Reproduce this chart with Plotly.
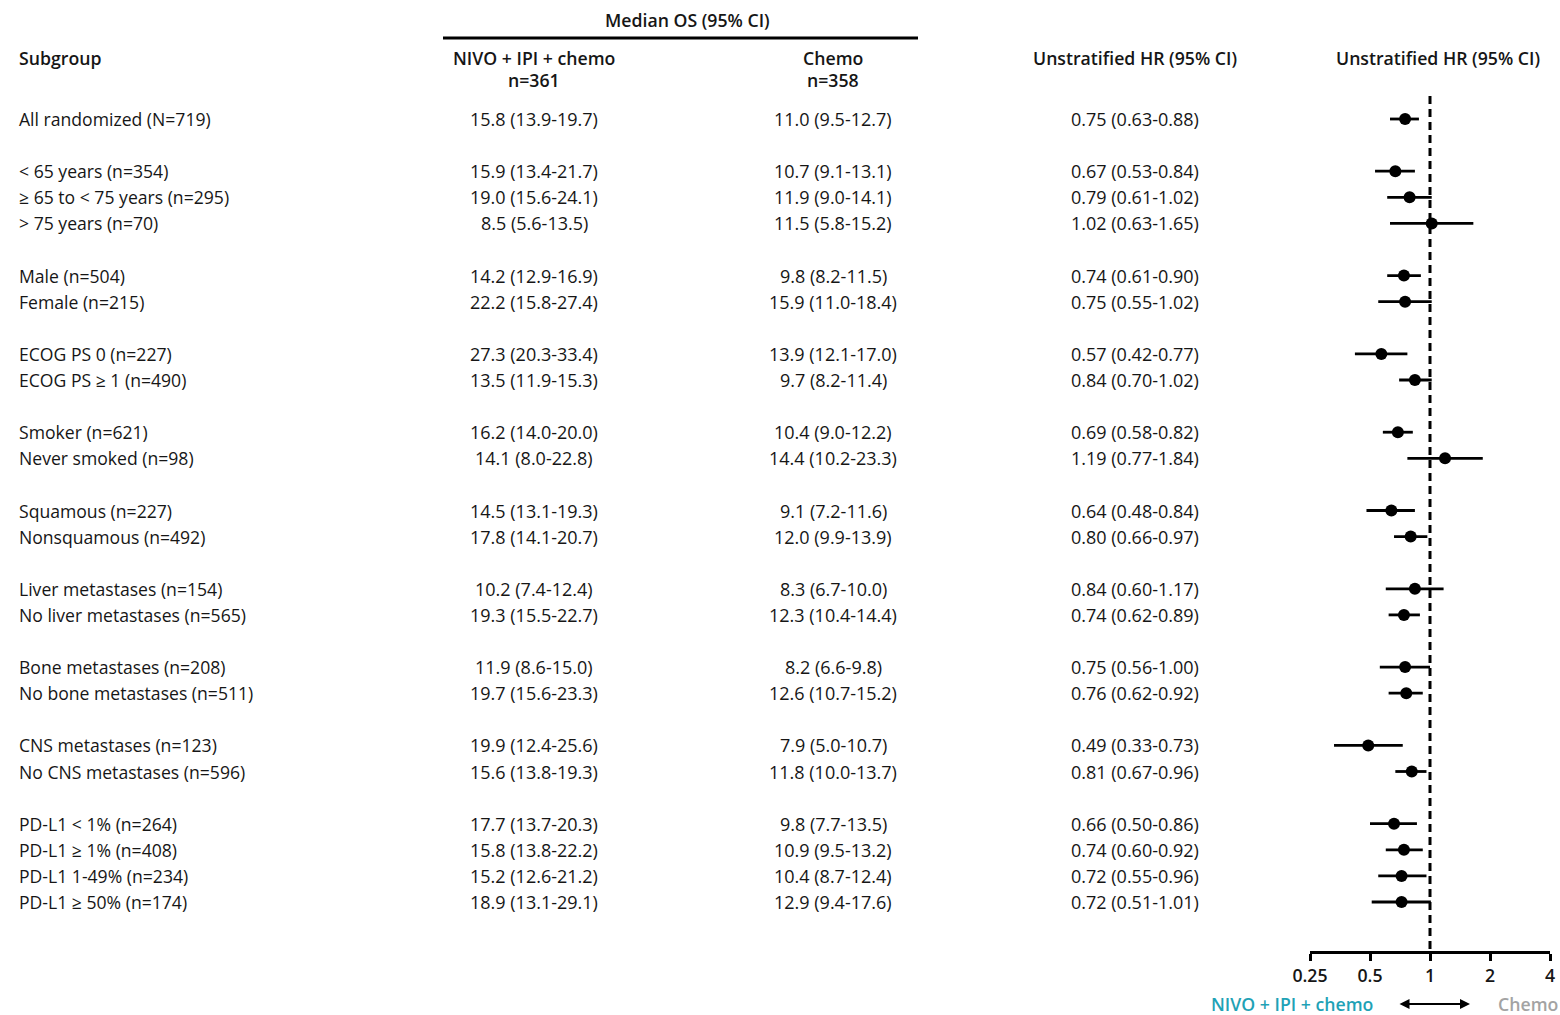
import math
import plotly.graph_objects as go

# ---- data -------------------------------------------------------------
groups = [
    ["All randomized (N=719)"],
    ["< 65 years (n=354)", "≥ 65 to < 75 years (n=295)", "> 75 years (n=70)"],
    ["Male (n=504)", "Female (n=215)"],
    ["ECOG PS 0 (n=227)", "ECOG PS ≥ 1 (n=490)"],
    ["Smoker (n=621)", "Never smoked (n=98)"],
    ["Squamous (n=227)", "Nonsquamous (n=492)"],
    ["Liver metastases (n=154)", "No liver metastases (n=565)"],
    ["Bone metastases (n=208)", "No bone metastases (n=511)"],
    ["CNS metastases (n=123)", "No CNS metastases (n=596)"],
    ["PD-L1 < 1% (n=264)", "PD-L1 ≥ 1% (n=408)", "PD-L1 1-49% (n=234)", "PD-L1 ≥ 50% (n=174)"],
]

nivo_os = [
    "15.8 (13.9-19.7)",
    "15.9 (13.4-21.7)", "19.0 (15.6-24.1)", "8.5 (5.6-13.5)",
    "14.2 (12.9-16.9)", "22.2 (15.8-27.4)",
    "27.3 (20.3-33.4)", "13.5 (11.9-15.3)",
    "16.2 (14.0-20.0)", "14.1 (8.0-22.8)",
    "14.5 (13.1-19.3)", "17.8 (14.1-20.7)",
    "10.2 (7.4-12.4)", "19.3 (15.5-22.7)",
    "11.9 (8.6-15.0)", "19.7 (15.6-23.3)",
    "19.9 (12.4-25.6)", "15.6 (13.8-19.3)",
    "17.7 (13.7-20.3)", "15.8 (13.8-22.2)", "15.2 (12.6-21.2)", "18.9 (13.1-29.1)",
]

chemo_os = [
    "11.0 (9.5-12.7)",
    "10.7 (9.1-13.1)", "11.9 (9.0-14.1)", "11.5 (5.8-15.2)",
    "9.8 (8.2-11.5)", "15.9 (11.0-18.4)",
    "13.9 (12.1-17.0)", "9.7 (8.2-11.4)",
    "10.4 (9.0-12.2)", "14.4 (10.2-23.3)",
    "9.1 (7.2-11.6)", "12.0 (9.9-13.9)",
    "8.3 (6.7-10.0)", "12.3 (10.4-14.4)",
    "8.2 (6.6-9.8)", "12.6 (10.7-15.2)",
    "7.9 (5.0-10.7)", "11.8 (10.0-13.7)",
    "9.8 (7.7-13.5)", "10.9 (9.5-13.2)", "10.4 (8.7-12.4)", "12.9 (9.4-17.6)",
]

hr = [0.75, 0.67, 0.79, 1.02, 0.74, 0.75, 0.57, 0.84, 0.69, 1.19, 0.64, 0.80,
      0.84, 0.74, 0.75, 0.76, 0.49, 0.81, 0.66, 0.74, 0.72, 0.72]
hr_lo = [0.63, 0.53, 0.61, 0.63, 0.61, 0.55, 0.42, 0.70, 0.58, 0.77, 0.48, 0.66,
         0.60, 0.62, 0.56, 0.62, 0.33, 0.67, 0.50, 0.60, 0.55, 0.51]
hr_hi = [0.88, 0.84, 1.02, 1.65, 0.90, 1.02, 0.77, 1.02, 0.82, 1.84, 0.84, 0.97,
         1.17, 0.89, 1.00, 0.92, 0.73, 0.96, 0.86, 0.92, 0.96, 1.01]

hr_ticks = [0.25, 0.5, 1, 2, 4]
hr_tick_text = ["0.25", "0.5", "1", "2", "4"]

# ---- layout helpers ---------------------------------------------------
W, H = 1560, 1015
FONT = "Open Sans"
BODY = 18
LABEL = 17.6
HEAD = 17.7
TXT = "#161616"
TEAL = "#1fa2b6"
GREY = "#a3a3a3"

# row positions: one blank row between groups
labels, rows = [], []
pos = 0
for g in groups:
    for lab in g:
        labels.append(lab)
        rows.append(pos)
        pos += 1
    pos += 1

ROW0_PX, ROW_PX = 119, 26.1          # pixel of row 0, pixels per row
y_top = -ROW0_PX / ROW_PX
y_bot = (H - ROW0_PX) / ROW_PX


def px_row(py):
    return (py - ROW0_PX) / ROW_PX


def px_x(px):
    return px / W


fig = go.Figure()

# CI whiskers
xs, ys = [], []
for lo, hi, r in zip(hr_lo, hr_hi, rows):
    xs += [lo, hi, None]
    ys += [r, r, None]
fig.add_trace(go.Scatter(x=xs, y=ys, mode="lines",
                         line=dict(color="black", width=2.8),
                         hoverinfo="skip", showlegend=False))
# point estimates
fig.add_trace(go.Scatter(x=hr, y=rows, mode="markers",
                         marker=dict(color="black", size=12),
                         showlegend=False))

# reference line at HR = 1
fig.add_shape(type="line", xref="x", yref="y", x0=1, x1=1,
              y0=px_row(96), y1=px_row(952),
              line=dict(color="black", width=3, dash="8px,5px"))

ann = []


def text(x_px, row, s, size=BODY, bold=False, color=TXT, anchor="center"):
    # annotation boxes carry a couple of pixels of padding at the anchored edge
    if anchor == "left":
        x_px -= 2
    elif anchor == "right":
        x_px += 2
    ann.append(dict(x=px_x(x_px), y=row, xref="paper", yref="y", text=s,
                    showarrow=False, xanchor=anchor, yanchor="middle",
                    font=dict(family=FONT, size=size, color=color,
                              weight=600 if bold else 400)))


# header
text(687, px_row(20), "Median OS (95% CI)", size=HEAD, bold=True)
fig.add_shape(type="line", xref="paper", yref="y", x0=px_x(443), x1=px_x(918),
              y0=px_row(38), y1=px_row(38), line=dict(color="black", width=3))
text(19, px_row(58), "Subgroup", size=HEAD, bold=True, anchor="left")
text(534, px_row(58), "NIVO + IPI + chemo", size=HEAD, bold=True)
text(534, px_row(80), "n=361", size=HEAD, bold=True)
text(833, px_row(58), "Chemo", size=HEAD, bold=True)
text(833, px_row(80), "n=358", size=HEAD, bold=True)
text(1135, px_row(58), "Unstratified HR (95% CI)", size=HEAD, bold=True)
text(1438, px_row(58), "Unstratified HR (95% CI)", size=HEAD, bold=True)

# table body
for lab, a, b, h, lo, hi, r in zip(labels, nivo_os, chemo_os, hr, hr_lo, hr_hi, rows):
    text(19, r, lab, size=LABEL, anchor="left")
    text(534, r, a)
    text(833, r, b)
    text(1135, r, f"{h:.2f} ({lo:.2f}-{hi:.2f})")

# direction legend under the axis
leg_row = px_row(1004)
text(1373, leg_row, "NIVO + IPI + chemo", size=HEAD, bold=True, color=TEAL, anchor="right")
text(1558, leg_row, "Chemo", size=HEAD, bold=True, color=GREY, anchor="right")
ann.append(dict(x=px_x(1470), y=leg_row, xref="paper", yref="y",
                ax=-72, ay=0, axref="pixel", ayref="pixel",
                text="", showarrow=True, arrowhead=2, arrowside="end+start",
                arrowsize=1, arrowwidth=2, arrowcolor="black"))

fig.update_layout(
    width=W, height=H,
    margin=dict(l=0, r=0, t=0, b=0, pad=0, autoexpand=False),
    paper_bgcolor="white", plot_bgcolor="white",
    annotations=ann,
    xaxis=dict(type="log", domain=[1310 / W, 1550 / W],
               range=[math.log10(0.25), math.log10(4)],
               anchor="free", position=1 - 952 / H, automargin=False,
               tickvals=hr_ticks, ticktext=hr_tick_text,
               showline=True, linecolor="black", linewidth=3,
               ticks="outside", ticklen=7, tickwidth=2.5, tickcolor="black",
               showgrid=False, zeroline=False,
               tickfont=dict(family=FONT, size=HEAD, color=TXT, weight=600)),
    yaxis=dict(range=[y_bot, y_top], domain=[0, 1], visible=False,
               automargin=False, showgrid=False, zeroline=False),
)

fig.write_html("out.html")
